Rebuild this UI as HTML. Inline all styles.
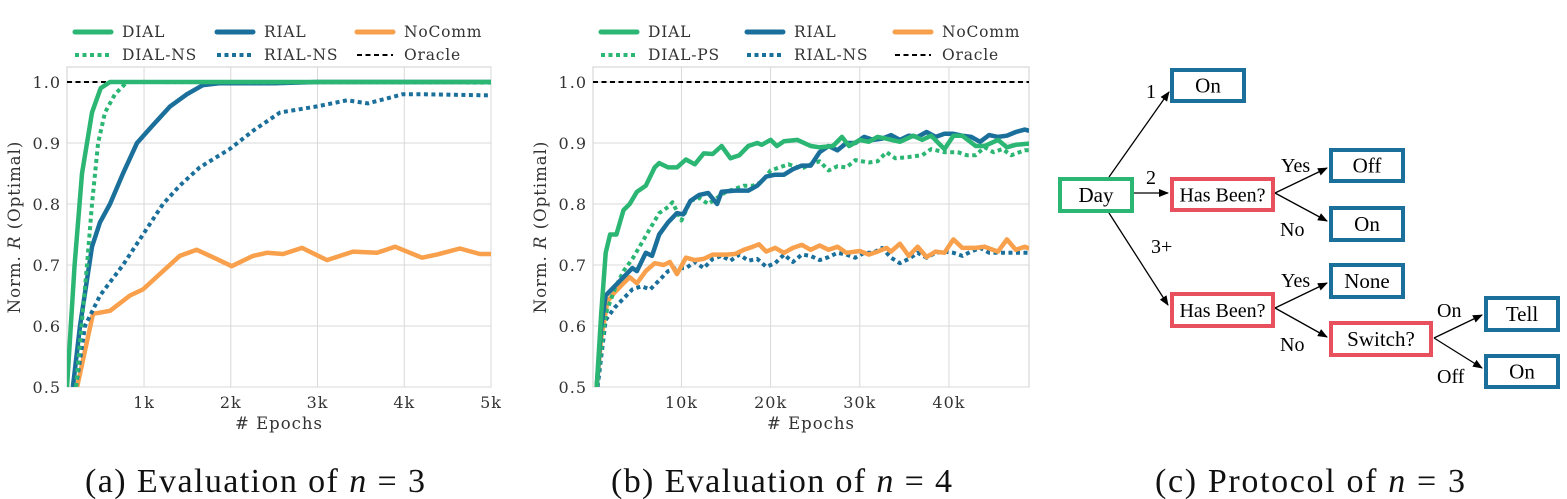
<!DOCTYPE html>
<html><head><meta charset="utf-8"><style>
html,body{margin:0;padding:0;background:#fff;}
body{width:1567px;height:499px;overflow:hidden;position:relative;}
svg{position:absolute;left:0;top:0;}
.tk{font-family:"DejaVu Serif","Liberation Serif",serif;font-size:16px;fill:#333;letter-spacing:1px;}
.at{font-family:"DejaVu Serif","Liberation Serif",serif;font-size:16.5px;fill:#333;letter-spacing:1px;}
.lg{font-family:"DejaVu Serif","Liberation Serif",serif;font-size:15.5px;fill:#333;letter-spacing:0.8px;}
.cap{font-family:"Liberation Serif",serif;font-size:34px;fill:#111;}
.bx{font-family:"Liberation Serif",serif;font-size:21px;fill:#000;}
.bxs{font-family:"Liberation Serif",serif;font-size:20px;fill:#000;}
.el{font-family:"Liberation Serif",serif;font-size:20px;fill:#000;}
</style></head><body>
<svg id="fig" width="1567" height="499" viewBox="0 0 1567 499">
<defs>
<clipPath id="clipA"><rect x="67" y="67" width="424" height="320"/></clipPath>
<clipPath id="clipB"><rect x="593" y="67" width="436" height="320"/></clipPath>
<marker id="arr" markerWidth="10" markerHeight="8" refX="9" refY="4" orient="auto" markerUnits="userSpaceOnUse"><path d="M0,0 L10,4 L0,8 Z" fill="#000"/></marker>
</defs>
<g id="chartA"></g>
<g id="chartB"></g>
<g id="diagram"></g>
<text class="cap" x="85" y="492" textLength="340" lengthAdjust="spacing">(a) Evaluation of <tspan font-style="italic">n</tspan> = 3</text>
<text class="cap" x="611" y="492" textLength="341" lengthAdjust="spacing">(b) Evaluation of <tspan font-style="italic">n</tspan> = 4</text>
<text class="cap" x="1155" y="492" textLength="310" lengthAdjust="spacing">(c) Protocol of <tspan font-style="italic">n</tspan> = 3</text>
</svg>
<script>
// ---- Chart A data (epochs, normalised reward) ----
const aDialX=[112,200,285,400,500,608,800,5000];
const aDialY=[0.5,0.7,0.85,0.95,0.99,1.0,1.0,1.0];
const aDialNsX=[216,343,400,470,550,665,804,5000];
const aDialNsY=[0.5,0.7,0.8,0.9,0.95,0.98,1.0,0.999];
const aRialX=[180,262,400,493,608,758,919,1107,1300,1495,1680,1876,2500,3000,5000];
const aRialY=[0.5,0.6,0.73,0.77,0.8,0.85,0.9,0.93,0.96,0.98,0.995,0.998,0.998,1.0,1.0];
const aRialNsX=[216,320,493,758,988,1219,1411,1642,1987,2256,2568,2994,3340,3582,3985,4181,5000];
const aRialNsY=[0.5,0.6,0.65,0.7,0.75,0.8,0.83,0.86,0.89,0.92,0.95,0.96,0.97,0.965,0.98,0.98,0.978];
const aNoX=[228,412,608,838,988,1219,1411,1607,1837,2011,2256,2417,2603,2821,3109,3410,3686,3893,4204,4376,4641,4872,5000];
const aNoY=[0.5,0.62,0.625,0.65,0.66,0.69,0.715,0.725,0.71,0.698,0.715,0.72,0.718,0.728,0.708,0.722,0.72,0.73,0.712,0.717,0.727,0.718,0.718];
const aXTicks=[1000,2000,3000,4000,5000];
const aXTickLabels=["1k","2k","3k","4k","5k"];
const yTicks=[0.5,0.6,0.7,0.8,0.9,1.0];
const yTickLabels=["0.5","0.6","0.7","0.8","0.9","1.0"];
// ---- Chart B data (thousands of epochs) ----
const bDialX=[0.5,1,1.5,2,2.7,3.5,4.2,5,6,7,7.5,8.5,9.5,10.5,11.5,12.5,13.5,14.5,15.5,16.5,17.5,18.5,19,20,20.7,21.5,23,24.5,25.5,27,28,28.8,30,31,32,33,34.5,36,37,38,39.5,40.5,41.5,43,44,45.5,46.5,47.5,49];
const bDialY=[0.5,0.62,0.72,0.75,0.75,0.79,0.8,0.82,0.83,0.86,0.867,0.86,0.86,0.873,0.865,0.883,0.882,0.895,0.875,0.88,0.895,0.9,0.897,0.905,0.895,0.903,0.905,0.895,0.893,0.895,0.91,0.895,0.905,0.902,0.91,0.907,0.902,0.912,0.905,0.912,0.89,0.912,0.912,0.895,0.895,0.905,0.893,0.897,0.899];
const bDialPsX=[0.5,1.5,2.5,3.5,4.5,5.5,6.5,7.5,8.5,9,10,11,12,13,14,15,16,17,18,19,20,21,22,23.5,24.5,25.5,26.5,27.5,28.5,29.5,31,32,33,34,35.5,37,38,39.5,41,42,43,44,45,46,47,48.5,49];
const bDialPsY=[0.5,0.62,0.66,0.69,0.71,0.735,0.76,0.785,0.795,0.803,0.773,0.805,0.81,0.8,0.81,0.82,0.825,0.83,0.83,0.836,0.855,0.86,0.865,0.858,0.865,0.87,0.855,0.862,0.86,0.872,0.868,0.87,0.885,0.875,0.877,0.88,0.89,0.885,0.885,0.88,0.88,0.893,0.885,0.89,0.88,0.888,0.888];
const bRialX=[0.5,1,1.5,2.5,3.5,4.5,5,6,6.7,7.5,8.5,9.5,10.2,11,12,13,14,14.5,16,17.5,18.5,19.5,20.5,21.5,22.5,23.5,24.5,25.5,26.5,27.5,28.5,29.5,30.5,31.5,32.5,33.5,34.5,35.5,36.5,37.5,38.5,39.5,40.5,41.5,42.5,43.5,44.5,45.5,46.5,47.5,48.5,49];
const bRialY=[0.5,0.6,0.65,0.665,0.68,0.695,0.69,0.72,0.715,0.75,0.77,0.785,0.783,0.805,0.815,0.818,0.8,0.82,0.822,0.822,0.83,0.845,0.848,0.848,0.857,0.863,0.863,0.885,0.895,0.888,0.9,0.9,0.91,0.905,0.907,0.913,0.905,0.912,0.91,0.918,0.91,0.915,0.915,0.912,0.91,0.902,0.913,0.91,0.912,0.918,0.922,0.92];
const bNoX=[0.5,1,1.7,2.5,3.5,4.2,5,6,7,8,8.7,9.5,10.5,11.5,12.5,13.5,15,16,17,18,18.7,19.5,20.5,21.5,22.5,23.5,24.5,25.5,26.5,27.5,28.5,30,31,32,33,33.5,34.5,35.5,36.5,37.5,38.5,39.5,40.5,41.5,43,44,45.5,46.5,47.5,48.5,49];
const bNoY=[0.5,0.58,0.64,0.655,0.67,0.68,0.67,0.69,0.703,0.7,0.705,0.685,0.712,0.708,0.71,0.717,0.717,0.718,0.725,0.73,0.734,0.722,0.728,0.72,0.728,0.733,0.725,0.732,0.725,0.73,0.72,0.723,0.717,0.722,0.728,0.722,0.735,0.715,0.73,0.713,0.722,0.72,0.742,0.728,0.728,0.73,0.722,0.742,0.725,0.73,0.727];
const bRialNsX=[0.6,1.5,2.5,3.5,4.5,5.5,6.5,7.5,8.5,9.5,10.5,11.5,12.5,13.5,14.5,15.5,16.5,17.5,18.5,19.5,20.5,21.5,22.5,23.5,24.5,25.5,26.5,27.5,28.5,29.5,30.5,31.5,32.5,33.5,34.5,35.5,36.5,37.5,38.5,39.5,40.5,41.5,42.5,43.5,44.5,45.5,46.5,47.5,48.5,49];
const bRialNsY=[0.5,0.61,0.63,0.645,0.66,0.665,0.66,0.675,0.69,0.695,0.695,0.705,0.695,0.71,0.715,0.707,0.717,0.707,0.71,0.697,0.703,0.717,0.705,0.717,0.715,0.708,0.713,0.72,0.717,0.712,0.72,0.72,0.728,0.712,0.703,0.71,0.72,0.712,0.72,0.722,0.72,0.715,0.722,0.728,0.72,0.72,0.72,0.72,0.72,0.72];
const bXTicks=[10,20,30,40];
const bXTickLabels=["10k","20k","30k","40k"];

const NS="http://www.w3.org/2000/svg";
const GREEN="#2bb673",BLUE="#1b6f9b",ORANGE="#f8a04c",RED="#e8505e";
function mk(tag,attrs,parent){const e=document.createElementNS(NS,tag);for(const k in attrs)e.setAttribute(k,attrs[k]);parent.appendChild(e);return e;}

function drawChart(g,o){
  const sx=v=>o.x0+(v-o.xmin)/(o.xmax-o.xmin)*(o.x1-o.x0);
  const sy=v=>o.yb+(v-0.5)/0.5*(o.yt-o.yb);
  const frame=mk('rect',{x:o.x0,y:67,width:o.x1-o.x0,height:387-67,fill:'#fff',stroke:'#cfcfcf','stroke-width':1},g);
  
  
  yTicks.forEach((t,i)=>{
    const l=mk('line',{x1:o.x0,x2:o.x1,y1:sy(t),y2:sy(t),stroke:'#d9d9d9','stroke-width':1},g);
    
    
    const tx=mk('text',{x:o.x0-6,y:sy(t)+6,'text-anchor':'end',class:'tk'},g);
    tx.textContent=yTickLabels[i];
    
    
  });
  o.xt.forEach((t,i)=>{
    const l=mk('line',{x1:sx(t),x2:sx(t),y1:67,y2:387,stroke:'#d9d9d9','stroke-width':1},g);
    
    
    const tx=mk('text',{x:sx(t),y:408,'text-anchor':'middle',class:'tk'},g);
    tx.textContent=o.xl[i];
    
    
  });
  const xt=mk('text',{x:(o.x0+o.x1)/2,y:429,'text-anchor':'middle',class:'at'},g);
  xt.textContent="# Epochs";
  
  
  const yt=mk('text',{x:0,y:0,'text-anchor':'middle',class:'at',transform:`translate(${o.ylx},227) rotate(-90)`},g);
  yt.innerHTML='Norm. <tspan font-style="italic">R</tspan> (Optimal)';
  
  
  const lg=mk('g',{'clip-path':`url(#${o.clip})`},g);
  const orc=mk('line',{x1:o.x0,x2:o.x1,y1:sy(1),y2:sy(1),stroke:'#000','stroke-width':2,'stroke-dasharray':'5 3.5'},lg);
  
  
  o.series.forEach(s=>{
    const d=s.x.map((v,i)=>(i?'L':'M')+sx(v).toFixed(1)+','+sy(s.y[i]).toFixed(1)).join(' ');
    const p=mk('path',{d:d,fill:'none',stroke:s.c,'stroke-width':s.dot?4:4.5,'stroke-linejoin':'round','stroke-dasharray':s.dot?'4 3.5':'none'},lg);
    
    
  });
  const L=o.leg;
  const items=[[L[0],32,GREEN,false,'DIAL'],[L[1],32,BLUE,false,'RIAL'],[L[2],32,ORANGE,false,'NoComm'],
               [L[0],55,GREEN,true,o.dialName],[L[1],55,BLUE,true,'RIAL-NS'],[L[2],55,'#000','o','Oracle']];
  items.forEach(it=>{
    const lgi=mk('g',{},g);
    
    
    const attrs={x1:it[0],x2:it[0]+36,y1:it[1],y2:it[1],stroke:it[2],'stroke-width':it[3]==='o'?2:(it[3]?4:5),'stroke-linecap':it[3]?'butt':'round'};
    if(it[3]===true)attrs['stroke-dasharray']='4 3.5';
    if(it[3]==='o')attrs['stroke-dasharray']='5 3.5';
    mk('line',attrs,lgi);
    const t=mk('text',{x:it[0]+47,y:it[1]+5,class:'lg'},lgi);
    t.textContent=it[4];
  });
}
drawChart(document.getElementById('chartA'),{x0:67,x1:491,xmin:112,xmax:5000,yt:82,yb:387,clip:'clipA',ylx:20,
  xt:aXTicks,xl:aXTickLabels,leg:[75,217,357],dialName:'DIAL-NS',
  series:[{x:aNoX,y:aNoY,c:ORANGE,name:'nocomm-line'},{x:aRialNsX,y:aRialNsY,c:BLUE,dot:true,name:'rial-ns-line'},
          {x:aRialX,y:aRialY,c:BLUE,name:'rial-line'},{x:aDialNsX,y:aDialNsY,c:GREEN,dot:true,name:'dial-ns-line'},
          {x:aDialX,y:aDialY,c:GREEN,name:'dial-line'}]});
drawChart(document.getElementById('chartB'),{x0:593,x1:1029,xmin:0.08,xmax:48.98,yt:82,yb:387,clip:'clipB',ylx:546,
  xt:bXTicks,xl:bXTickLabels,leg:[601,747,895],dialName:'DIAL-PS',
  series:[{x:bRialNsX,y:bRialNsY,c:BLUE,dot:true,name:'rial-ns-line'},{x:bNoX,y:bNoY,c:ORANGE,name:'nocomm-line'},
          {x:bDialPsX,y:bDialPsY,c:GREEN,dot:true,name:'dial-ps-line'},{x:bRialX,y:bRialY,c:BLUE,name:'rial-line'},
          {x:bDialX,y:bDialY,c:GREEN,name:'dial-line'}]});

// ---- Diagram ----
const dg=document.getElementById('diagram');
const boxes=[
 ['day-box',1058,177,76,36,GREEN,'Day','bx'],
 ['on-day1-box',1170,68,76,35,BLUE,'On','bx'],
 ['has-been-box-1',1170,177,105,35,RED,'Has Been?','bxs'],
 ['off-box',1329,148,76,35,BLUE,'Off','bx'],
 ['on-box-2',1329,206,76,36,BLUE,'On','bx'],
 ['has-been-box-2',1170,292,105,36,RED,'Has Been?','bxs'],
 ['none-box',1329,263,76,36,BLUE,'None','bx'],
 ['switch-box',1329,321,104,36,RED,'Switch?','bx'],
 ['tell-box',1484,296,76,36,BLUE,'Tell','bx'],
 ['on-box-3',1484,354,76,35,BLUE,'On','bx']];
const arrows=[[1109,177,1169,92],[1134,193,1168,193],[1109,213,1168,305],[1275,193,1327,168],[1275,193,1327,221],
 [1275,308,1327,283],[1275,308,1327,337],[1434,338,1482,315],[1434,338,1482,368]];
arrows.forEach(a=>{
  const l=mk('line',{x1:a[0],y1:a[1],x2:a[2],y2:a[3],stroke:'#000','stroke-width':1.3,'marker-end':'url(#arr)'},dg);
  
  
});
boxes.forEach(b=>{
  const g=mk('g',{},dg);
  
  
  mk('rect',{x:b[1]+2,y:b[2]+2,width:b[3]-4,height:b[4]-4,fill:'#fff',stroke:b[5],'stroke-width':4},g);
  const t=mk('text',{x:b[1]+b[3]/2,y:b[2]+b[4]/2+7,'text-anchor':'middle',class:b[7]},g);
  t.textContent=b[6];
});
const labels=[[1146,98,'1'],[1146,184,'2'],[1151,253,'3+'],[1281,172,'Yes'],[1280,236,'No'],[1281,287,'Yes'],[1280,351,'No'],[1437,317,'On'],[1437,383,'Off']];
labels.forEach(l=>{
  const t=mk('text',{x:l[0],y:l[1],class:'el'},dg);
  t.textContent=l[2];
  
  
});
</script>
</body></html>
